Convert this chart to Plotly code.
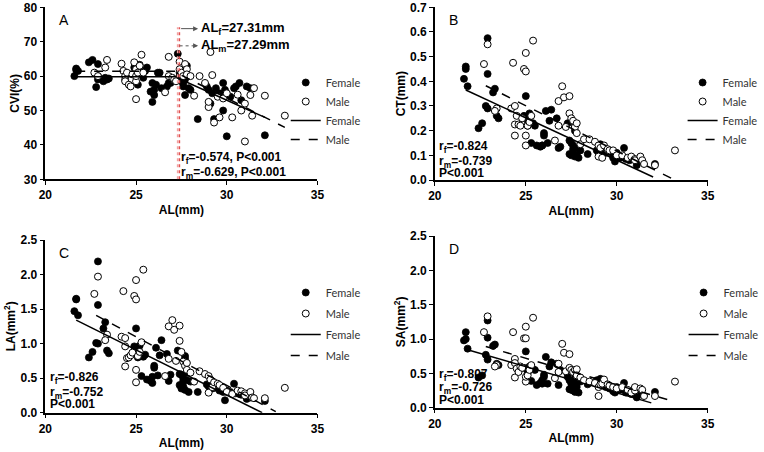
import plotly.graph_objects as go

# ---------------- data ----------------
female_al = [21.7, 21.7, 21.6, 21.8, 22.4, 22.6, 22.8, 22.9, 22.9, 22.9, 23.2, 23.3, 23.4, 23.5,
             24.9, 25.0, 25.1, 25.1, 25.2, 25.3, 25.4, 25.5, 25.6, 25.8, 25.9, 25.9, 26.0, 26.0,
             26.1, 26.2, 26.3, 26.4, 26.7, 26.8, 26.9, 27.3, 27.4, 27.4, 27.5, 27.5, 27.6, 27.6,
             27.6, 27.7, 27.7, 27.7, 27.8, 27.8, 27.9, 28.0, 28.4, 28.9, 29.0, 29.1, 29.2, 29.3,
             29.4, 29.6, 29.8, 29.8, 29.9, 30.0, 30.2, 30.4, 30.5, 30.7, 30.8, 31.1, 31.3, 32.1]
female_cvi = [62.2, 61.8, 60.0, 61.5, 64.0, 64.7, 56.8, 63.5, 60.0, 59.0, 58.5, 59.5, 59.0, 59.3,
              62.5, 63.0, 62.0, 57.5, 63.3, 61.5, 59.5, 61.5, 62.5, 55.5, 52.5, 58.0, 56.0, 54.5,
              57.5, 61.0, 61.0, 56.5, 57.0, 58.0, 58.0, 66.5, 61.0, 60.0, 58.5, 59.5, 58.0, 57.0,
              60.5, 61.5, 59.0, 54.5, 63.0, 60.5, 56.5, 56.0, 47.5, 57.0, 56.0, 52.0, 55.0, 47.5,
              56.5, 55.0, 58.0, 50.0, 56.0, 42.5, 54.0, 56.5, 57.0, 58.0, 53.0, 57.0, 56.5, 42.8]
female_ct = [0.46, 0.45, 0.41, 0.38, 0.21, 0.23, 0.30, 0.29, 0.575, 0.43, 0.355, 0.37, 0.26, 0.25,
             0.26, 0.34, 0.24, 0.22, 0.27, 0.15, 0.23, 0.22, 0.14, 0.135, 0.14, 0.14, 0.19, 0.18,
             0.28, 0.15, 0.24, 0.285, 0.25, 0.13, 0.135, 0.23, 0.16, 0.105, 0.10, 0.15, 0.125, 0.11,
             0.14, 0.22, 0.20, 0.095, 0.13, 0.10, 0.09, 0.12, 0.105, 0.12, 0.11, 0.145, 0.13, 0.12,
             0.11, 0.115, 0.10, 0.09, 0.075, 0.11, 0.09, 0.13, 0.085, 0.08, 0.09, 0.06, 0.085, 0.065]
female_la = [1.65, 1.64, 1.47, 1.41, 0.80, 0.88, 1.01, 1.00, 2.19, 1.56, 1.22, 1.31, 0.90, 0.86,
             0.96, 1.22, 0.88, 0.80, 0.97, 0.53, 0.81, 0.84, 0.48, 0.46, 0.43, 0.52, 0.65, 0.68,
             0.94, 0.54, 0.83, 1.05, 0.85, 0.46, 0.55, 0.90, 0.56, 0.40, 0.35, 0.55, 0.50, 0.38,
             0.46, 0.82, 0.78, 0.33, 0.47, 0.58, 0.30, 0.45, 0.30, 0.41, 0.38, 0.42, 0.35, 0.38,
             0.36, 0.32, 0.30, 0.33, 0.18, 0.32, 0.30, 0.42, 0.28, 0.27, 0.26, 0.20, 0.22, 0.17]
female_sa = [1.10, 1.00, 0.98, 0.86, 0.44, 0.47, 0.77, 0.70, 1.27, 1.02, 0.90, 0.92, 0.64, 0.62,
             0.58, 0.82, 0.55, 0.50, 0.60, 0.39, 0.56, 0.55, 0.33, 0.36, 0.35, 0.40, 0.45, 0.48,
             0.74, 0.35, 0.60, 0.66, 0.64, 0.33, 0.55, 0.45, 0.40, 0.27, 0.26, 0.35, 0.30, 0.25,
             0.32, 0.48, 0.42, 0.23, 0.36, 0.30, 0.22, 0.38, 0.34, 0.40, 0.32, 0.42, 0.33, 0.36,
             0.30, 0.28, 0.26, 0.24, 0.22, 0.30, 0.26, 0.36, 0.22, 0.24, 0.20, 0.15, 0.20, 0.23]

male_al = [22.7, 22.9, 23.4, 23.3, 24.2, 24.3, 24.4, 24.4, 24.4, 24.5, 24.6, 24.7, 24.8, 24.9,
           25.0, 25.0, 25.0, 25.0, 25.1, 25.2, 25.3, 25.4, 26.6, 26.8, 26.8, 27.0, 27.1, 27.2,
           27.4, 27.4, 27.5, 27.6, 27.7, 27.8, 27.8, 28.0, 28.2, 28.5, 28.8, 29.0, 29.0, 29.1,
           29.2, 29.3, 29.5, 29.6, 29.8, 30.0, 30.3, 30.6, 30.8, 31.0, 31.0, 31.3, 31.4, 31.5,
           32.1, 33.2]
male_cvi = [61.0, 60.0, 64.7, 62.5, 63.6, 61.5, 60.0, 59.0, 58.5, 61.0, 57.5, 57.0, 60.5, 64.0,
            58.5, 62.0, 53.3, 60.0, 61.0, 63.0, 66.2, 61.0, 55.3, 65.6, 60.0, 59.5, 59.0, 58.5,
            64.2, 62.0, 61.0, 60.0, 63.5, 62.0, 60.5, 60.0, 54.3, 60.0, 58.0, 51.0, 52.5, 67.0,
            60.3, 46.5, 54.0, 48.0, 53.5, 55.0, 48.0, 54.6, 50.0, 41.0, 52.0, 54.5, 48.5, 56.5,
            54.3, 48.5]
male_ct = [0.47, 0.55, 0.29, 0.28, 0.29, 0.475, 0.30, 0.225, 0.18, 0.26, 0.225, 0.22, 0.25, 0.45,
           0.44, 0.515, 0.14, 0.18, 0.22, 0.235, 0.26, 0.565, 0.16, 0.32, 0.22, 0.38, 0.335, 0.215,
           0.34, 0.27, 0.25, 0.24, 0.215, 0.23, 0.19, 0.145, 0.165, 0.165, 0.155, 0.14, 0.095, 0.13,
           0.09, 0.14, 0.125, 0.12, 0.12, 0.10, 0.10, 0.09, 0.095, 0.085, 0.08, 0.095, 0.08, 0.065,
           0.06, 0.12]
male_la = [1.72, 1.97, 1.13, 1.05, 1.10, 1.76, 1.08, 0.96, 0.67, 0.79, 0.80, 0.83, 0.87, 1.69,
           1.64, 1.92, 0.44, 0.62, 0.82, 0.88, 1.02, 2.07, 0.53, 1.25, 0.78, 1.34, 1.20, 0.75,
           1.26, 1.04, 0.88, 0.74, 0.68, 0.72, 0.62, 0.58, 0.45, 0.60, 0.56, 0.53, 0.29, 0.48,
           0.37, 0.44, 0.42, 0.40, 0.36, 0.30, 0.27, 0.32, 0.31, 0.28, 0.25, 0.30, 0.22, 0.21,
           0.21, 0.36]
male_sa = [1.10, 1.33, 0.62, 0.60, 0.62, 1.10, 0.71, 0.65, 0.44, 0.57, 0.52, 0.60, 0.58, 1.01,
           1.01, 1.18, 0.38, 0.45, 0.47, 0.55, 0.62, 1.31, 0.43, 0.64, 0.52, 0.93, 0.80, 0.53,
           0.78, 0.58, 0.55, 0.52, 0.55, 0.56, 0.47, 0.44, 0.40, 0.38, 0.36, 0.30, 0.17, 0.34,
           0.35, 0.41, 0.34, 0.32, 0.30, 0.28, 0.30, 0.26, 0.22, 0.25, 0.30, 0.28, 0.26, 0.17,
           0.17, 0.38]

# regression / segmented fit lines (x, y)
fitA_female_x = [21.6, 27.31, 27.31, 32.1]
fitA_female_y = [59.8, 59.8, 59.4, 48.0]
fitA_male_x = [21.7, 27.29, 27.29, 33.2]
fitA_male_y = [61.4, 61.4, 60.8, 45.1]
fitB_female_x = [21.7, 32.0]; fitB_female_y = [0.365, 0.012]
fitB_male_x = [22.8, 33.2];   fitB_male_y = [0.382, 0.0]
fitC_female_x = [21.7, 31.95]; fitC_female_y = [1.34, 0.0]
fitC_male_x = [22.8, 32.7];    fitC_male_y = [1.41, 0.015]
fitD_female_x = [21.7, 31.9]; fitD_female_y = [0.85, 0.07]
fitD_male_x = [22.8, 32.9];   fitD_male_y = [0.89, 0.11]

breakpoint_female = 27.31
breakpoint_male = 27.29

panels = [
    dict(letter="A", ytitle="CVI(%)", yrange=[30, 80], ydtick=10, yfmt="d",
         fy=female_cvi, my=male_cvi, ffx=fitA_female_x, ffy=fitA_female_y,
         fmx=fitA_male_x, fmy=fitA_male_y,
         stats=["r<sub>f</sub>=-0.574, P<0.001", "r<sub>m</sub>=-0.629, P<0.001"]),
    dict(letter="B", ytitle="CT(mm)", yrange=[0, 0.7], ydtick=0.1, yfmt=".1f",
         fy=female_ct, my=male_ct, ffx=fitB_female_x, ffy=fitB_female_y,
         fmx=fitB_male_x, fmy=fitB_male_y,
         stats=["r<sub>f</sub>=-0.824", "r<sub>m</sub>=-0.739", "P<0.001"]),
    dict(letter="C", ytitle="LA(mm<sup>2</sup>)", yrange=[0, 2.5], ydtick=0.5, yfmt=".1f",
         fy=female_la, my=male_la, ffx=fitC_female_x, ffy=fitC_female_y,
         fmx=fitC_male_x, fmy=fitC_male_y,
         stats=["r<sub>f</sub>=-0.826", "r<sub>m</sub>=-0.752", "P<0.001"]),
    dict(letter="D", ytitle="SA(mm<sup>2</sup>)", yrange=[0, 2.5], ydtick=0.5, yfmt=".1f",
         fy=female_sa, my=male_sa, ffx=fitD_female_x, ffy=fitD_female_y,
         fmx=fitD_male_x, fmy=fitD_male_y,
         stats=["r<sub>f</sub>=-0.807", "r<sub>m</sub>=-0.726", "P<0.001"]),
]

W, H = 764, 452
# pixel boxes: (left, right, top, bottom)
boxes = [(45.7, 320.0, 7.3, 179.3), (438.3, 713.3, 7.3, 180.0),
         (45.7, 320.0, 240.0, 412.7), (438.3, 713.3, 236.0, 407.7)]
# stats text rows (x px, list of y px centres)
stat_pos = [(180, [158, 173]), (440, [147, 162, 173]),
            (48, [378, 393, 404]), (440, [375, 388, 400])]
legend_left = [288, 688, 288, 689]
legend_top = [68, 68, 278, 278]
legend_gap = [0, 0, 2, 2]

FONT = "Liberation Sans, Arial, sans-serif"
LEGFONT = "Lato, sans-serif"

fig = go.Figure()
layout = dict(width=W, height=H, margin=dict(l=0, r=0, t=0, b=0),
              paper_bgcolor="white", plot_bgcolor="white", showlegend=True,
              font=dict(family=FONT, color="black"))
annotations = []
shapes = []

for i, p in enumerate(panels):
    n = i + 1
    xa = "x" if n == 1 else f"x{n}"
    ya = "y" if n == 1 else f"y{n}"
    leg = "legend" if n == 1 else f"legend{n}"
    l, r, t, b = boxes[i]
    layout[f"xaxis{'' if n == 1 else n}"] = dict(
        domain=[l / W, r / W], range=[20, 35], dtick=5, anchor=ya,
        showgrid=False, zeroline=False, showline=True, linecolor="black", linewidth=1.5,
        ticks="outside", ticklen=4, tickcolor="black", tickwidth=1.2,
        tickfont=dict(size=12, family=FONT, weight="bold"),
        title=dict(text="<b>AL(mm)</b>", font=dict(size=12), standoff=4),
        automargin=False)
    layout[f"yaxis{'' if n == 1 else n}"] = dict(
        domain=[1 - b / H, 1 - t / H], range=p["yrange"], dtick=p["ydtick"],
        tickformat=p["yfmt"], anchor=xa,
        showgrid=False, zeroline=False, showline=True, linecolor="black", linewidth=1.5,
        ticks="outside", ticklen=4, tickcolor="black", tickwidth=1.2,
        tickfont=dict(size=12, family=FONT, weight="bold"),
        title=dict(text=f"<b>{p['ytitle']}</b>", font=dict(size=12), standoff=2),
        automargin=False)

    fig.add_trace(go.Scatter(x=female_al, y=p["fy"], mode="markers", name="Female",
                             xaxis=xa, yaxis=ya, legend=leg, legendgroup=f"{n}a",
                             marker=dict(size=7, color="black", line=dict(width=0.8, color="black"))))
    fig.add_trace(go.Scatter(x=male_al, y=p["my"], mode="markers", name="Male",
                             xaxis=xa, yaxis=ya, legend=leg, legendgroup=f"{n}b",
                             marker=dict(size=7, color="white", line=dict(width=1, color="black"))))
    fig.add_trace(go.Scatter(x=p["ffx"], y=p["ffy"], mode="lines", name="Female",
                             xaxis=xa, yaxis=ya, legend=leg, legendgroup=f"{n}c",
                             line=dict(color="black", width=1.5)))
    fig.add_trace(go.Scatter(x=p["fmx"], y=p["fmy"], mode="lines", name="Male",
                             xaxis=xa, yaxis=ya, legend=leg, legendgroup=f"{n}d",
                             line=dict(color="black", width=1.5, dash="dash")))

    layout[leg] = dict(x=legend_left[i] / W, y=1 - legend_top[i] / H, xanchor="left",
                       yanchor="top", bgcolor="rgba(0,0,0,0)", itemwidth=30,
                       font=dict(size=11, family=LEGFONT, color="#333333"),
                       tracegroupgap=legend_gap[i])

    annotations.append(dict(text=p["letter"], xref="paper", yref="paper",
                            x=(l + 12) / W, y=1 - (t + 13) / H, xanchor="left", yanchor="middle",
                            showarrow=False, font=dict(size=14, family=FONT)))

    x0, ys = stat_pos[i]
    for s, yy in zip(p["stats"], ys):
        annotations.append(dict(text=f"<b>{s}</b>", xref="paper", yref="paper",
                                x=x0 / W, y=1 - yy / H, xanchor="left", yanchor="middle",
                                showarrow=False, font=dict(size=12, family=FONT)))

# breakpoint lines in panel A
shapes.append(dict(type="line", xref="x", yref="y", x0=breakpoint_male, x1=breakpoint_male,
                   y0=30, y1=74.2, line=dict(color="#f4a0a0", width=1.5, dash="dot")))
shapes.append(dict(type="line", xref="x", yref="y", x0=breakpoint_female + 0.08,
                   x1=breakpoint_female + 0.08,
                   y0=30, y1=74.2, line=dict(color="#e05050", width=1.5, dash="dot")))
# arrows
annotations.append(dict(x=28.42, y=73.8, ax=27.4, ay=73.8, xref="x", yref="y",
                        axref="x", ayref="y", text="", showarrow=True, arrowhead=2,
                        arrowsize=1, arrowwidth=1, arrowcolor="#555555"))
shapes.append(dict(type="line", xref="x", yref="y", x0=27.4, x1=28.2, y0=68.8, y1=68.8,
                   line=dict(color="#555555", width=1, dash="dot")))
annotations.append(dict(x=28.42, y=68.8, ax=28.15, ay=68.8, xref="x", yref="y",
                        axref="x", ayref="y", text="", showarrow=True, arrowhead=2,
                        arrowsize=1, arrowwidth=1, arrowcolor="#555555"))
annotations.append(dict(text=f"<b>AL<sub>f</sub>={breakpoint_female}mm</b>", x=28.45, y=73.8,
                        xref="x", yref="y", xanchor="left", yanchor="middle", showarrow=False,
                        font=dict(size=13, family=FONT)))
annotations.append(dict(text=f"<b>AL<sub>m</sub>={breakpoint_male}mm</b>", x=28.45, y=68.8,
                        xref="x", yref="y", xanchor="left", yanchor="middle", showarrow=False,
                        font=dict(size=13, family=FONT)))

layout["annotations"] = annotations
layout["shapes"] = shapes
fig.update_layout(**layout)
fig.write_html("out.html", config={"displayModeBar": False},
               post_script="document.body.style.margin='0';")
